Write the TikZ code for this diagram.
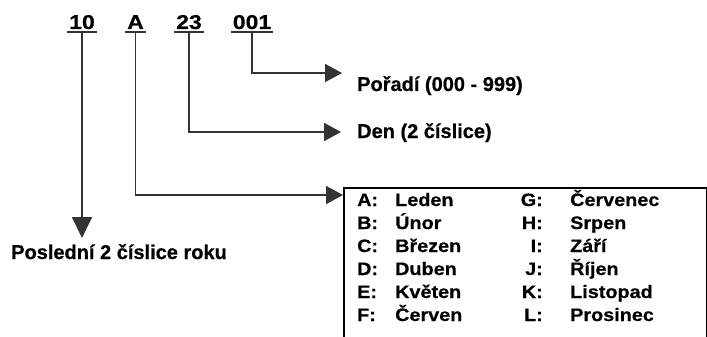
\documentclass[tikz,border=0pt]{standalone}
\usepackage{fontspec}
\setmainfont{Liberation Sans}
\newfontfamily\lblfont[FakeStretch=1.0,FakeBold=0.5]{Liberation Sans Bold}
\newfontfamily\boxfont[FakeStretch=1.1,FakeBold=0.5]{Liberation Sans Bold}
\newfontfamily\codefont[FakeStretch=1.15,FakeBold=0.5]{Liberation Sans Bold}
\usetikzlibrary{arrows.meta}
\definecolor{linec}{HTML}{333333}
\begin{document}
\begin{tikzpicture}[x=1pt,y=-1pt,
  conn/.style={draw=linec, line width=1.8pt, -{Triangle[length=17pt,width=18pt]}},
  vconn/.style={draw=linec, line width=1.8pt, -{Triangle[length=21pt,width=20pt]}},
  code/.style={font=\codefont\fontsize{20}{23}\selectfont, inner xsep=2pt, inner ysep=3pt, anchor=base},
  lbl/.style={font=\lblfont\fontsize{20}{23}\selectfont, inner sep=0pt, anchor=base west},
  mlet/.style={font=\boxfont\fontsize{18}{20}\selectfont, inner sep=0pt},
  uline/.style={draw=linec, line width=2pt},
  monthbox/.style={draw=black, line width=1.8pt, minimum width=363pt, minimum height=200pt, anchor=north west, inner sep=0pt}]
\useasboundingbox (0,0) rectangle (707,337);
\fill[white] (0,0) rectangle (707,337);

% codes
\node[code] (c10) at (82,29) {10};
\node[code] (cA) at (135.5,29) {A};
\node[code] (c23) at (189,29) {23};
\node[code] (c001) at (252,29) {001};
\foreach \n in {c10,cA,c23,c001} {\draw[uline] (\n.south west) -- (\n.south east);}

% labels
\node[lbl] (lpor) at (357,91) {Pořadí (000 - 999)};
\node[lbl] (lden) at (357,138) {Den (2 číslice)};
\node[lbl] (lrok) at (11,259) {Poslední 2 číslice roku};

% month box
\node[monthbox] (box) at (343,187) {};
\foreach \a/\m/\b/\k [count=\i from 0] in {A/Leden/G/Červenec, B/Únor/H/Srpen, C/Březen/I/Září, D/Duben/J/Říjen, E/Květen/K/Listopad, F/Červen/L/Prosinec} {
  \node[mlet, anchor=base west] (la\i) at (357,{206+23*\i}) {\a:};
  \node[mlet, anchor=base west] (ma\i) at (395,{206+23*\i}) {\m};
  \node[mlet, anchor=base east] (lb\i) at (543,{206+23*\i}) {\b:};
  \node[mlet, anchor=base west] (mb\i) at (570,{206+23*\i}) {\k};
}

% arrow end points
\coordinate (p001) at (342,73);
\coordinate (p23) at (341,132);
\coordinate (pA) at (box.north west |- 0,195);
\coordinate (p10) at (82,238);

% connectors
\draw[conn] (c001.south) |- (p001);
\draw[conn] (c23.south) |- (p23);
\draw[conn] (cA.south) |- (pA);
\draw[vconn] (c10.south) -- (p10);
\end{tikzpicture}
\end{document}
